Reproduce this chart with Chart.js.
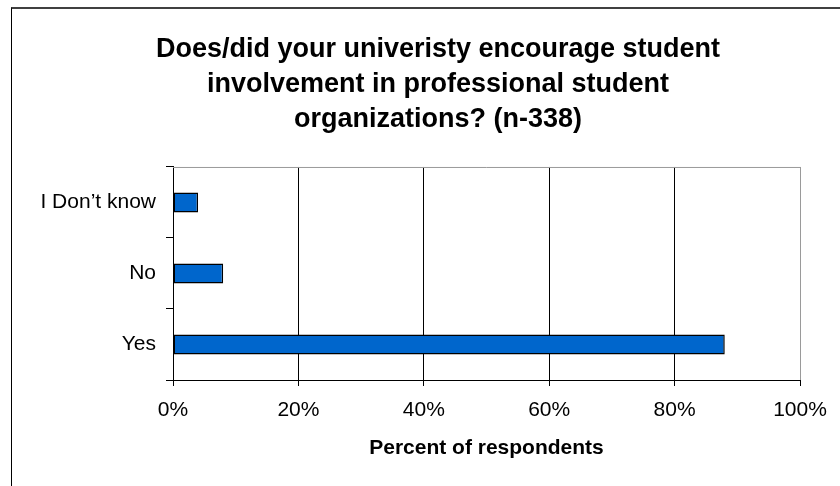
<!DOCTYPE html>
<html>
<head>
<meta charset="utf-8">
<script src="https://cdn.jsdelivr.net/npm/chart.js@4"></script>
<style>
  body { margin: 0; background: #fff; overflow: hidden; }
  #frame {
    position: absolute; left: 11px; top: 7px;
    width: 900px; height: 600px;
    border-top: 2px solid #404040;
    border-left: 1px solid #000;
  }
  #wrap { position: absolute; left: 0; top: 0; width: 840px; height: 486px; }
</style>
</head>
<body>
<div id="frame"></div>
<div id="wrap"><canvas id="chart"></canvas></div>
<script>
Chart.defaults.font.family = '"Liberation Sans", Arial, sans-serif';
Chart.defaults.color = '#000';

// =====================================
// DATA
// =====================================

const categories = ['I Don\u2019t know', 'No', 'Yes'];
const percentValues = [4, 8, 88];
const titleLines = [
    'Does/did your univeristy encourage student',
    'involvement in professional student',
    'organizations? (n-338)'
];
const axisTitle = 'Percent of respondents';


// =====================================
// PLOT FRAME (top edge in grey) + title nudge
// =====================================

const plotFrame = {
    id: 'plotFrame',
    afterLayout(chart) {
        // original title sits a bit right of the canvas centre
        if (chart.titleBlock) chart.titleBlock.left += 56;
    },
    afterDraw(chart) {
        const { ctx, chartArea } = chart;
        ctx.save();
        ctx.strokeStyle = '#9a9a9a';
        ctx.lineWidth = 1;
        ctx.beginPath();
        ctx.moveTo(chartArea.left, chartArea.top + 0.5);
        ctx.lineTo(chartArea.right + 0.5, chartArea.top + 0.5);
        ctx.stroke();
        ctx.restore();
    }
};


// =====================================
// BAR CHART
// =====================================

new Chart(document.getElementById('chart'), {

    type: 'bar',

    data: {
        labels: categories,
        datasets: [
            {
                data: percentValues,
                backgroundColor: '#0066CC',
                borderColor: '#000',
                borderWidth: 1.5,
                borderSkipped: false,
                barPercentage: 0.28,
                categoryPercentage: 1
            }
        ]
    },

    options: {
        indexAxis: 'y',
        responsive: true,
        maintainAspectRatio: false,
        animation: false,

        layout: {
            padding: { left: 20, right: 40, top: 0, bottom: 0 }
        },

        plugins: {
            legend: { display: false },
            tooltip: { enabled: false },
            title: {
                display: true,
                text: titleLines,
                color: '#000',
                font: { size: 27, weight: 'bold', lineHeight: 1.296 },
                padding: { top: 32, bottom: 30 }
            }
        },

        scales: {
            x: {
                min: 0,
                max: 100,
                ticks: {
                    stepSize: 20,
                    color: '#000',
                    padding: 12,
                    font: { size: 21 },
                    callback: value => value + '%'
                },
                grid: {
                    color: ctx => ctx.index === 5 ? '#9a9a9a' : '#000',
                    lineWidth: 1,
                    tickLength: 6,
                    tickColor: '#000'
                },
                border: { color: '#000', width: 1 },
                title: {
                    display: true,
                    text: axisTitle,
                    color: '#000',
                    font: { size: 21, weight: 'bold' },
                    padding: { top: 8, bottom: 25 }
                },
                afterFit: scale => { scale.height = 106; }
            },
            y: {
                ticks: {
                    color: '#000',
                    padding: 10,
                    font: { size: 21 }
                },
                grid: {
                    drawOnChartArea: false,
                    tickLength: 7,
                    color: '#000'
                },
                border: { color: '#000', width: 1 },
                afterFit: scale => { scale.width = 153; }
            }
        }
    },

    plugins: [plotFrame]
});
</script>
</body>
</html>
